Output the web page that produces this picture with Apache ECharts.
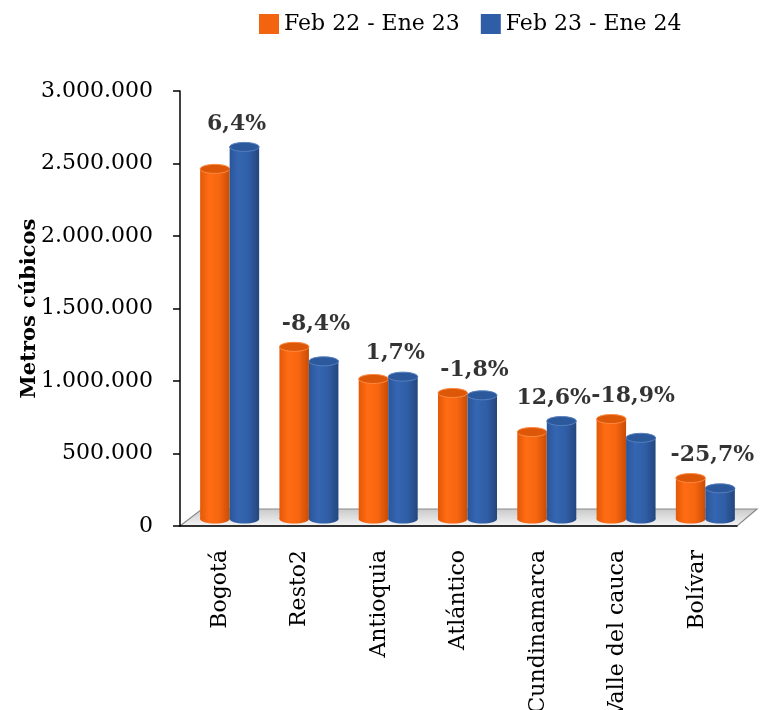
<!DOCTYPE html>
<html>
<head>
<meta charset="utf-8">
<script src="https://cdn.jsdelivr.net/npm/echarts@6/dist/echarts.min.js"></script>
<style>html,body{margin:0;padding:0;background:#fff}#c{width:760px;height:710px}</style>
</head>
<body>
<div id="c"></div>
<script>
const categories = ['Bogotá', 'Resto2', 'Antioquia', 'Atlántico', 'Cundinamarca', 'Valle del cauca', 'Bolívar'];
const seriesNames = ['Feb 22 - Ene 23', 'Feb 23 - Ene 24'];
const feb22Ene23 = [2420000, 1190000, 968000, 871000, 601000, 691000, 283000];
const feb23Ene24 = [2572000, 1090000, 984000, 855000, 677000, 561000, 212000];
const changeLabels = ['6,4%', '-8,4%', '1,7%', '-1,8%', '12,6%', '-18,9%', '-25,7%'];
const yTicks = [0, 500000, 1000000, 1500000, 2000000, 2500000, 3000000];

const FONT = 'DejaVu Serif';
const chart = echarts.init(document.getElementById('c'), null, {renderer: 'canvas'});

function fmt(v) {
  return String(Math.round(v)).replace(/\B(?=(\d{3})+(?!\d))/g, '.');
}

const BAR_W = 29.5;
function cylinder(side, c) {
  return function (params, api) {
    const cat = api.value(0);
    const v = api.value(1);
    const top = api.coord([cat, v]);
    const base = api.coord([cat, 0]);
    const x0 = side < 0 ? top[0] - BAR_W : top[0];
    const cx = x0 + BAR_W / 2;
    const ry = 4.5;
    const grad = new echarts.graphic.LinearGradient(0, 0, 1, 0, [
      {offset: 0, color: c.edge},
      {offset: 0.3, color: c.mid},
      {offset: 0.65, color: c.mid2},
      {offset: 1, color: c.edge2}
    ]);
    return {
      type: 'group',
      children: [
        {type: 'ellipse', shape: {cx: cx, cy: base[1], rx: BAR_W / 2, ry: ry}, style: {fill: grad}},
        {type: 'rect', shape: {x: x0, y: top[1], width: BAR_W, height: base[1] - top[1]}, style: {fill: grad}},
        {type: 'ellipse', shape: {cx: cx, cy: top[1], rx: BAR_W / 2, ry: ry}, style: {fill: c.top, stroke: c.rim, lineWidth: 1}}
      ]
    };
  };
}

const orange = {edge: '#E45806', mid: '#FF6C14', mid2: '#F66610', edge2: '#C94C05', top: '#DD5708', rim: '#FF8A40', base: '#F26410'};
const blue = {edge: '#2A559A', mid: '#3566B2', mid2: '#305EA6', edge2: '#23467E', top: '#2C589C', rim: '#5680C0', base: '#2F5DA6'};

const maxVals = feb22Ene23.map((v, i) => Math.max(v, feb23Ene24[i]));

const option = {
  backgroundColor: '#ffffff',
  animation: false,
  legend: {
    data: seriesNames,
    left: 254,
    top: 8,
    icon: 'rect',
    itemWidth: 20,
    itemHeight: 20,
    itemGap: 21,
    textStyle: {fontFamily: FONT, fontSize: 22, color: '#000'}
  },
  grid: [
    {left: 180, right: 23, top: 91, bottom: 184, containLabel: false, outerBoundsMode: 'none'},
    {left: 190, right: 15, top: 85, bottom: 191, containLabel: false, outerBoundsMode: 'none'}
  ],
  xAxis: [
    {
      type: 'category', gridIndex: 0, data: categories,
      axisLine: {lineStyle: {color: '#000', width: 1.5}},
      axisTick: {inside: true, length: 7, lineStyle: {color: '#000', width: 1.5}},
      axisLabel: {rotate: 90, margin: 24, fontFamily: FONT, fontSize: 22, color: '#000'}
    },
    {
      type: 'category', gridIndex: 1, data: categories,
      axisLine: {show: false}, axisTick: {show: false}, axisLabel: {show: false}
    }
  ],
  yAxis: [
    {
      type: 'value', gridIndex: 0, min: 0, max: 3000000, interval: 500000,
      name: 'Metros cúbicos', nameLocation: 'middle', nameGap: 140, nameMoveOverlap: false,
      nameTextStyle: {fontFamily: FONT, fontSize: 21, fontWeight: 'bold', color: '#000'},
      axisLine: {show: true, lineStyle: {color: '#000', width: 1.5}},
      axisTick: {show: true, length: 7, lineStyle: {color: '#000', width: 1.5}},
      splitLine: {show: false},
      axisLabel: {margin: 27, fontFamily: FONT, fontSize: 22, color: '#000', formatter: fmt}
    },
    {
      type: 'value', gridIndex: 1, min: 0, max: 3000000, interval: 500000,
      axisLine: {show: false}, axisTick: {show: false}, axisLabel: {show: false}, splitLine: {show: false}
    }
  ],
  graphic: [
    {
      type: 'polygon', z: 0, silent: true,
      shape: {points: [[180, 526], [202, 509], [757, 509], [737, 526]]},
      style: {
        fill: new echarts.graphic.LinearGradient(0, 0, 0, 1, [
          {offset: 0, color: '#c8c8c8'}, {offset: 1, color: '#f6f6f6'}
        ]),
        stroke: '#8a8a8a', lineWidth: 1.2
      }
    }
  ],
  series: [
    {
      name: seriesNames[0], type: 'custom', xAxisIndex: 1, yAxisIndex: 1, z: 3,
      itemStyle: {color: orange.base},
      renderItem: cylinder(-1, orange),
      encode: {x: 0, y: 1},
      data: feb22Ene23.map((v, i) => [i, v])
    },
    {
      name: seriesNames[1], type: 'custom', xAxisIndex: 1, yAxisIndex: 1, z: 3,
      itemStyle: {color: blue.base},
      renderItem: cylinder(1, blue),
      encode: {x: 0, y: 1},
      data: feb23Ene24.map((v, i) => [i, v])
    },
    {
      name: 'cambio', type: 'scatter', xAxisIndex: 1, yAxisIndex: 1, z: 4,
      symbolSize: 0, silent: true,
      data: maxVals,
      label: {
        show: true, position: 'top', distance: 12, offset: [7, 0],
        formatter: p => changeLabels[p.dataIndex],
        fontFamily: FONT, fontSize: 22, fontWeight: 'bold', color: '#000'
      }
    }
  ]
};
chart.setOption(option);
</script>
</body>
</html>
